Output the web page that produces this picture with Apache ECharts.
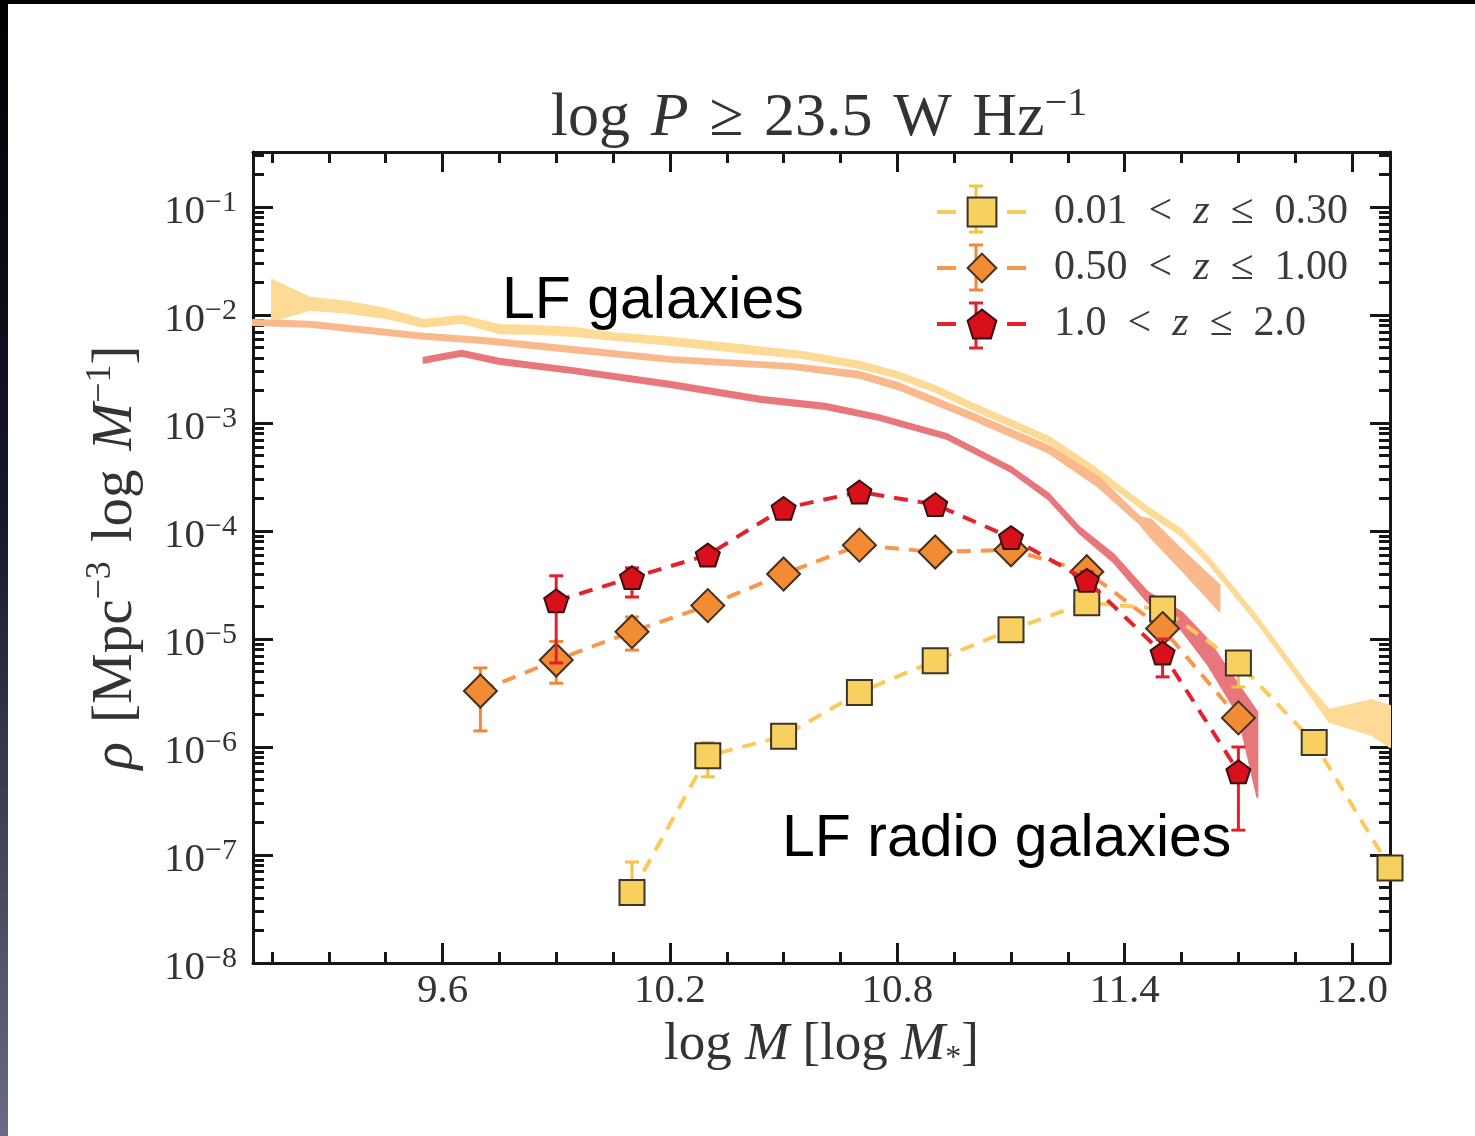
<!DOCTYPE html>
<html>
<head>
<meta charset="utf-8">
<script src="https://cdn.jsdelivr.net/npm/echarts@6.0.0/dist/echarts.min.js"></script>
<style>
  html, body { margin: 0; padding: 0; background: #fff; }
  #chart { width: 1475px; height: 1136px; }
</style>
</head>
<body>
<div id="chart"></div>
<script>
// ---- radio galaxy densities ----
const yellowX = [10.1, 10.3, 10.5, 10.7, 10.9, 11.1, 11.3, 11.5, 11.7, 11.9, 12.1];
const yellowRho = [4.5e-8, 8.3e-7, 1.26e-6, 3.2e-6, 6.3e-6, 1.22e-5, 2.17e-5, 1.9e-5, 6.0e-6, 1.1e-6, 7.6e-8];
const yellowLo = [4.5e-8, 5.3e-7, 1.1e-6, 2.9e-6, 5.9e-6, 1.15e-5, 2.05e-5, 1.7e-5, 3.6e-6, 9.0e-7, 6.0e-8];
const yellowHi = [8.6e-8, 1.1e-6, 1.45e-6, 3.5e-6, 6.7e-6, 1.3e-5, 2.3e-5, 2.1e-5, 7.5e-6, 1.3e-6, 9.5e-8];

const orangeX = [9.7, 9.9, 10.1, 10.3, 10.5, 10.7, 10.9, 11.1, 11.3, 11.5, 11.7];
const orangeRho = [3.3e-6, 6.4e-6, 1.17e-5, 2.04e-5, 4.0e-5, 7.4e-5, 6.4e-5, 6.7e-5, 4.2e-5, 1.25e-5, 1.86e-6];
const orangeLo = [1.41e-6, 3.9e-6, 7.9e-6, 1.7e-5, 3.5e-5, 6.6e-5, 5.7e-5, 6.0e-5, 3.6e-5, 1.0e-5, 1.5e-6];
const orangeHi = [5.4e-6, 9.5e-6, 1.6e-5, 2.4e-5, 4.5e-5, 8.2e-5, 7.1e-5, 7.4e-5, 4.9e-5, 1.5e-5, 2.3e-6];

const redX = [9.9, 10.1, 10.3, 10.5, 10.7, 10.9, 11.1, 11.3, 11.5, 11.7];
const redRho = [2.26e-5, 3.7e-5, 6.0e-5, 1.62e-4, 2.3e-4, 1.76e-4, 8.7e-5, 3.5e-5, 7.4e-6, 5.9e-7];
const redLo = [6.0e-6, 2.45e-5, 5.2e-5, 1.45e-4, 2.05e-4, 1.55e-4, 7.5e-5, 2.9e-5, 4.46e-6, 1.7e-7];
const redHi = [3.85e-5, 4.56e-5, 6.9e-5, 1.8e-4, 2.55e-4, 1.95e-4, 1.0e-4, 4.2e-5, 1.0e-5, 1.0e-6];

// ---- galaxy mass functions (bands: lower / upper edge) ----
const lfYellowX = [9.15, 9.25, 9.35, 9.45, 9.55, 9.65, 9.75, 9.85, 9.95, 10.05, 10.2, 10.4, 10.55, 10.7, 10.8, 10.9, 11.0, 11.2, 11.33, 11.46, 11.55, 11.62, 11.75, 11.88, 11.94, 12.05, 12.1];
const lfYellowLo = [8.85e-3, 1.12e-2, 1.05e-2, 9.4e-3, 7.8e-3, 8.5e-3, 6.8e-3, 6.7e-3, 6.4e-3, 5.9e-3, 5.3e-3, 4.47e-3, 4.0e-3, 3.24e-3, 2.62e-3, 1.95e-3, 1.33e-3, 6.56e-4, 3.24e-4, 1.47e-4, 9.0e-5, 5.07e-5, 1.41e-5, 3.38e-6, 1.71e-6, 1.3e-6, 1.0e-6];
const lfYellowHi = [2.12e-2, 1.45e-2, 1.33e-2, 1.14e-2, 9.0e-3, 9.8e-3, 8.1e-3, 7.9e-3, 7.6e-3, 6.8e-3, 6.15e-3, 5.2e-3, 4.56e-3, 3.69e-3, 2.98e-3, 2.21e-3, 1.51e-3, 7.44e-4, 3.68e-4, 1.67e-4, 1.03e-4, 5.77e-5, 1.6e-5, 3.84e-6, 2.2e-6, 2.73e-6, 2.4e-6];

const lfOrangeX = [9.1, 9.25, 9.55, 9.7, 9.94, 10.2, 10.52, 10.7, 10.8, 11.0, 11.2, 11.33, 11.44, 11.47, 11.55, 11.65];
const lfOrangeLo = [8.1e-3, 7.8e-3, 6.03e-3, 5.53e-3, 4.56e-3, 3.69e-3, 3.18e-3, 2.62e-3, 2.07e-3, 1.07e-3, 5.3e-4, 2.57e-4, 1.16e-4, 8.65e-5, 4.37e-5, 1.82e-5];
const lfOrangeHi = [9.0e-3, 8.65e-3, 6.7e-3, 6.15e-3, 5.08e-3, 4.1e-3, 3.53e-3, 2.98e-3, 2.36e-3, 1.22e-3, 6.15e-4, 3.18e-4, 1.35e-4, 1.27e-4, 6.7e-5, 3.17e-5];

const lfRedX = [9.55, 9.65, 9.75, 9.94, 10.2, 10.44, 10.61, 10.75, 10.93, 11.1, 11.2, 11.28, 11.37, 11.46, 11.55, 11.62, 11.7, 11.75];
const lfRedLo = [3.61e-3, 4.19e-3, 3.53e-3, 2.92e-3, 2.16e-3, 1.57e-3, 1.35e-3, 1.07e-3, 7.14e-4, 3.53e-4, 1.95e-4, 9.6e-5, 5.18e-5, 2.21e-5, 1.21e-5, 5.75e-6, 1.98e-6, 3.45e-7];
const lfRedHi = [4.02e-3, 4.67e-3, 3.94e-3, 3.24e-3, 2.41e-3, 1.75e-3, 1.51e-3, 1.19e-3, 7.94e-4, 3.93e-4, 2.21e-4, 1.09e-4, 6.14e-5, 2.73e-5, 1.78e-5, 9.8e-6, 3.76e-6, 2.11e-6];

// ---- axes ----
const xMin = 9.1, xMax = 12.1;
const xMajor = [9.6, 10.2, 10.8, 11.4, 12.0];
const xMinor = [9.15, 9.3, 9.45, 9.75, 9.9, 10.05, 10.35, 10.5, 10.65, 10.95, 11.1, 11.25, 11.55, 11.7, 11.85];
const yMinExp = -8, yMaxExp = -0.49;
const seriesNames = ['0.01 < z ≤ 0.30', '0.50 < z ≤ 1.00', '1.0 < z ≤ 2.0'];

// minor log ticks (2..9 x 10^n) in exponent space
const yMinorExp = [];
for (let d = yMinExp; d < 0; d++) {
  for (let k = 2; k <= 9; k++) {
    const e = d + Math.log10(k);
    if (e <= yMaxExp) yMinorExp.push(e);
  }
}

const serif = '"Liberation Serif", "DejaVu Serif", serif';
const ink = '#161616';
const textCol = '#333';
const spine = { show: true, lineStyle: { color: ink, width: 3 } };
const tickStyle = { color: ink, width: 3 };
const sp = '\u2004'; // slightly wider space, closer to TeX math spacing

const pair = (xs, ys) => xs.map((x, i) => [x, ys[i]]);
const triple = (xs, lo, hi) => xs.map((x, i) => [x, lo[i], hi[i]]);

function bandSeries(name, xs, lo, hi, color) {
  return {
    type: 'custom',
    name,
    z: 1,
    silent: true,
    data: triple(xs, lo, hi),
    encode: { x: 0, y: [1, 2] },
    renderItem(params, api) {
      if (params.dataIndex !== 0) return;
      const upper = xs.map((x, i) => api.coord([x, hi[i]]));
      const lower = xs.map((x, i) => api.coord([x, lo[i]])).reverse();
      return {
        type: 'polygon',
        shape: { points: upper.concat(lower) },
        style: { fill: color, stroke: color, lineWidth: 2, lineJoin: 'round' }
      };
    }
  };
}

function errorBarSeries(name, xs, lo, hi, color, z) {
  return {
    type: 'custom',
    name,
    z,
    silent: true,
    data: triple(xs, lo, hi),
    encode: { x: 0, y: [1, 2] },
    renderItem(params, api) {
      const x = api.value(0);
      const bot = api.coord([x, api.value(1)]);
      const top = api.coord([x, api.value(2)]);
      const cap = 7;
      const st = { stroke: color, lineWidth: 3 };
      return {
        type: 'group',
        children: [
          { type: 'line', shape: { x1: bot[0], y1: bot[1], x2: top[0], y2: top[1] }, style: st },
          { type: 'line', shape: { x1: bot[0] - cap, y1: bot[1], x2: bot[0] + cap, y2: bot[1] }, style: st },
          { type: 'line', shape: { x1: top[0] - cap, y1: top[1], x2: top[0] + cap, y2: top[1] }, style: st }
        ]
      };
    }
  };
}

function pointSeries(name, xs, ys, symbol, size, fill, border, lineColor, z) {
  return {
    type: 'line',
    name,
    z,
    data: pair(xs, ys),
    symbol,
    symbolSize: size,
    symbolKeepAspect: true,
    showAllSymbol: true,
    lineStyle: { color: lineColor, width: 4, type: [14, 10] },
    itemStyle: { color: fill, borderColor: border, borderWidth: 2 },
    emphasis: { disabled: true }
  };
}

const pentagon = 'path://M0,-10L9.51,-3.09L5.88,8.09L-5.88,8.09L-9.51,-3.09Z';

function expLabel(v) {
  const e = Math.log10(v);
  const r = Math.round(e);
  if (Math.abs(e - r) > 1e-6) return '';
  return '{b|10}{s|−' + (-r) + '}';
}

function legendText(name) {
  const parts = name.split('z');
  return '{p|}{n|' + parts[0].replace(/ /g, '\u2002') + '}{i|z}{n|' + parts[1].replace(/ /g, '\u2002') + '}';
}

const chart = echarts.init(document.getElementById('chart'), null, { renderer: 'canvas' });

const gridBox = { left: 253, right: 85, top: 152, bottom: 173, containLabel: false, outerBoundsMode: 'none' };

const option = {
  animation: false,
  backgroundColor: '#ffffff',
  grid: [Object.assign({}, gridBox), Object.assign({}, gridBox)],
  xAxis: [
    {
      type: 'value', gridIndex: 0, position: 'bottom', min: xMin, max: xMax,
      axisLine: spine,
      axisTick: { inside: true, length: 20, lineStyle: tickStyle, customValues: xMajor },
      axisLabel: {
        customValues: xMajor, formatter: v => v.toFixed(1),
        fontFamily: serif, fontSize: 41, color: textCol, margin: 8
      },
      splitLine: { show: false },
      name: '{n|log }{i|M}{n| [log }{i|M}{sub|*}{n|]}',
      nameLocation: 'middle',
      nameGap: 52,
      nameTextStyle: {
        rich: {
          n: { fontFamily: serif, fontSize: 53, color: textCol, lineHeight: 60 },
          i: { fontFamily: serif, fontStyle: 'italic', fontSize: 53, color: textCol, lineHeight: 60 },
          sub: { fontFamily: serif, fontSize: 32, color: textCol, verticalAlign: 'bottom', lineHeight: 32 }
        }
      }
    },
    {
      type: 'value', gridIndex: 0, position: 'top', min: xMin, max: xMax,
      axisLine: spine,
      axisTick: { inside: true, length: 20, lineStyle: tickStyle, customValues: xMajor },
      axisLabel: { show: false },
      splitLine: { show: false }
    },
    {
      type: 'value', gridIndex: 1, position: 'bottom', min: xMin, max: xMax,
      axisLine: { show: false },
      axisTick: { inside: true, length: 11, lineStyle: tickStyle, customValues: xMinor },
      axisLabel: { show: false },
      splitLine: { show: false }
    },
    {
      type: 'value', gridIndex: 1, position: 'top', min: xMin, max: xMax,
      axisLine: { show: false },
      axisTick: { inside: true, length: 11, lineStyle: tickStyle, customValues: xMinor },
      axisLabel: { show: false },
      splitLine: { show: false }
    }
  ],
  yAxis: [
    {
      type: 'log', gridIndex: 0, position: 'left', logBase: 10,
      min: Math.pow(10, yMinExp), max: Math.pow(10, yMaxExp), interval: 1,
      axisLine: spine,
      axisTick: { inside: true, length: 20, lineStyle: tickStyle },
      axisLabel: {
        formatter: expLabel, margin: 16, padding: [10, 0, 0, 0],
        rich: {
          b: { fontFamily: serif, fontSize: 41, color: textCol, lineHeight: 48 },
          s: { fontFamily: serif, fontSize: 30, color: textCol, verticalAlign: 'top', lineHeight: 30 }
        }
      },
      splitLine: { show: false },
      name: '{i|ρ}{n|' + sp + '[Mpc}{s|−3}{n|' + sp + 'log' + sp + '}{i|M}{s|−1}{n|]}',
      nameLocation: 'middle',
      nameRotate: 90,
      nameGap: 104,
      nameTextStyle: {
        rich: {
          n: { fontFamily: serif, fontSize: 57, color: textCol, lineHeight: 66 },
          i: { fontFamily: serif, fontStyle: 'italic', fontSize: 57, color: textCol, lineHeight: 66 },
          s: { fontFamily: serif, fontSize: 36, color: textCol, verticalAlign: 'top', lineHeight: 36 }
        }
      }
    },
    {
      type: 'log', gridIndex: 0, position: 'right', logBase: 10,
      min: Math.pow(10, yMinExp), max: Math.pow(10, yMaxExp), interval: 1,
      axisLine: spine,
      axisTick: { inside: true, length: 20, lineStyle: tickStyle },
      axisLabel: { show: false },
      splitLine: { show: false }
    },
    {
      type: 'value', gridIndex: 1, position: 'left', min: yMinExp, max: yMaxExp,
      axisLine: { show: false },
      axisTick: { inside: true, length: 11, lineStyle: tickStyle, customValues: yMinorExp },
      axisLabel: { show: false },
      splitLine: { show: false }
    },
    {
      type: 'value', gridIndex: 1, position: 'right', min: yMinExp, max: yMaxExp,
      axisLine: { show: false },
      axisTick: { inside: true, length: 11, lineStyle: tickStyle, customValues: yMinorExp },
      axisLabel: { show: false },
      splitLine: { show: false }
    }
  ],
  legend: {
    data: seriesNames,
    orient: 'vertical',
    left: 930,
    top: 186,
    itemWidth: 90,
    itemHeight: 36,
    itemGap: 14,
    selectedMode: false,
    formatter: legendText,
    lineStyle: { type: [19, 51], width: 4 },
    textStyle: {
      rich: {
        p: { width: 22 },
        n: { fontFamily: serif, fontSize: 42, color: '#3a3a3a', lineHeight: 46 },
        i: { fontFamily: serif, fontStyle: 'italic', fontSize: 42, color: '#3a3a3a', lineHeight: 46 }
      }
    }
  },
  graphic: [
    { type: 'rect', left: 0, top: 0, silent: true, shape: { width: 1475, height: 4 }, style: { fill: '#000' } },
    {
      type: 'rect', left: 0, top: 0, silent: true, shape: { width: 8, height: 1136 },
      style: {
        fill: new echarts.graphic.LinearGradient(0, 0, 0, 1, [
          { offset: 0, color: '#000000' },
          { offset: 0.45, color: '#16162c' },
          { offset: 1, color: '#6a6a86' }
        ])
      }
    },
    {
      type: 'text', x: 819, y: 119, silent: true,
      style: {
        text: '{n|log' + sp + '}{i|P}{n|' + sp + '≥' + sp + '23.5' + sp + 'W' + sp + 'Hz}{s|−1}',
        align: 'center', verticalAlign: 'middle',
        rich: {
          n: { fontFamily: serif, fontSize: 62, fill: textCol, lineHeight: 70 },
          i: { fontFamily: serif, fontStyle: 'italic', fontSize: 62, fill: textCol, lineHeight: 70 },
          s: { fontFamily: serif, fontSize: 40, fill: textCol, verticalAlign: 'top', lineHeight: 38 }
        }
      }
    },
    {
      type: 'text', x: 502, y: 302, silent: true, z: 10,
      style: { text: 'LF galaxies', font: '59px "Liberation Sans", Arial, sans-serif', fill: '#000', verticalAlign: 'middle' }
    },
    {
      type: 'text', x: 782, y: 840, silent: true, z: 10,
      style: { text: 'LF radio galaxies', font: '59px "Liberation Sans", Arial, sans-serif', fill: '#000', verticalAlign: 'middle' }
    },
    // error bars behind the legend symbols
    { type: 'line', silent: true, z: 1, shape: { x1: 976, y1: 186, x2: 976, y2: 232 }, style: { stroke: '#F5C242', lineWidth: 3 } },
    { type: 'line', silent: true, z: 1, shape: { x1: 969, y1: 186, x2: 983, y2: 186 }, style: { stroke: '#F5C242', lineWidth: 3 } },
    { type: 'line', silent: true, z: 1, shape: { x1: 969, y1: 232, x2: 983, y2: 232 }, style: { stroke: '#F5C242', lineWidth: 3 } },
    { type: 'line', silent: true, z: 1, shape: { x1: 976, y1: 245, x2: 976, y2: 290 }, style: { stroke: '#F0883A', lineWidth: 3 } },
    { type: 'line', silent: true, z: 1, shape: { x1: 969, y1: 245, x2: 983, y2: 245 }, style: { stroke: '#F0883A', lineWidth: 3 } },
    { type: 'line', silent: true, z: 1, shape: { x1: 969, y1: 290, x2: 983, y2: 290 }, style: { stroke: '#F0883A', lineWidth: 3 } },
    { type: 'line', silent: true, z: 1, shape: { x1: 976, y1: 303, x2: 976, y2: 348 }, style: { stroke: '#E0202C', lineWidth: 3 } },
    { type: 'line', silent: true, z: 1, shape: { x1: 969, y1: 303, x2: 983, y2: 303 }, style: { stroke: '#E0202C', lineWidth: 3 } },
    { type: 'line', silent: true, z: 1, shape: { x1: 969, y1: 348, x2: 983, y2: 348 }, style: { stroke: '#E0202C', lineWidth: 3 } }
  ],
  series: [
    bandSeries('LF 0.01-0.30', lfYellowX, lfYellowLo, lfYellowHi, '#FDDA96'),
    bandSeries('LF 0.50-1.00', lfOrangeX, lfOrangeLo, lfOrangeHi, '#F9B98C'),
    bandSeries('LF 1.0-2.0', lfRedX, lfRedLo, lfRedHi, '#E8777C'),
    errorBarSeries('err 0.01-0.30', yellowX, yellowLo, yellowHi, '#F5C242', 2),
    pointSeries(seriesNames[0], yellowX, yellowRho, 'rect', 25, '#F8D060', '#3c3526', '#FDC95A', 3),
    errorBarSeries('err 0.50-1.00', orangeX, orangeLo, orangeHi, '#F0883A', 4),
    pointSeries(seriesNames[1], orangeX, orangeRho, 'diamond', 33, '#F28C34', '#44301e', '#F7964C', 5),
    errorBarSeries('err 1.0-2.0', redX, redLo, redHi, '#E0202C', 6),
    pointSeries(seriesNames[2], redX, redRho, pentagon, 24, '#D7101A', '#3a1212', '#E4222C', 7)
  ]
};

chart.setOption(option);
</script>
</body>
</html>
